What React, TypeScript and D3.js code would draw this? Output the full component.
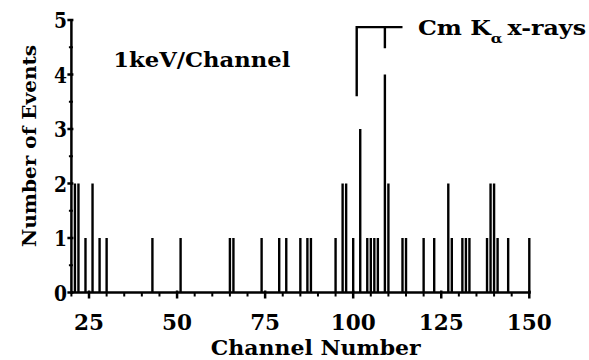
import React from "react";
import * as d3 from "d3";

// Data
const channels = [21, 22, 24, 26, 28, 30, 43, 51, 65, 66, 74, 79, 81, 85, 87, 88, 95, 97, 98, 100, 102, 104, 105, 106, 107, 109, 110, 114, 115, 120, 123, 127, 128, 131, 132, 133, 138, 139, 140, 141, 144, 150];
const counts = [2, 2, 1, 2, 1, 1, 1, 1, 1, 1, 1, 1, 1, 1, 1, 1, 1, 2, 2, 1, 3, 1, 1, 1, 1, 4, 2, 1, 1, 1, 1, 2, 1, 1, 1, 1, 1, 2, 2, 1, 1, 1];
const xTicks = [25, 50, 75, 100, 125, 150];
const yTicks = [0, 1, 2, 3, 4, 5];
const xMinor = d3.range(20, 151, 5).filter((v) => v % 25 !== 0);
const yMinor = [0.5, 1.5, 2.5, 3.5, 4.5];
// bracket for Cm K-alpha x-rays: left line channel, right line channel, end of horizontal
const bracketChannels = [101, 109, 114];
// levels: left line bottom, top, right line bottom
const bracketLevels = [3.6, 4.87, 4.48];

const FONT = "'DejaVu Serif', serif";

export default function App() {
  const W = 589;
  const H = 360;
  const x = d3.scaleLinear().domain([20, 150]).range([71.4, 529.3]);
  const y = d3.scaleLinear().domain([0, 5]).range([292.5, 20]);

  const bars = channels.map((c, i) => ({ c, v: counts[i] }));
  const bracketPath =
    `M${x(bracketChannels[0])},${y(bracketLevels[0])}` +
    `V${y(bracketLevels[1])}H${x(bracketChannels[2])}` +
    `M${x(bracketChannels[1])},${y(bracketLevels[1])}V${y(bracketLevels[2])}`;

  return (
    <svg
      width={W}
      height={H}
      viewBox={`0 0 ${W} ${H}`}
      style={{ position: "absolute", left: 0, top: 0, background: "#fff" }}
    >
      <rect width={W} height={H} fill="#fff" />
      {/* bars */}
      <g stroke="#000" strokeWidth={2.4}>
        {bars.map((b, i) => (
          <line key={i} x1={x(b.c)} x2={x(b.c)} y1={y(0)} y2={y(b.v)} />
        ))}
      </g>
      {/* axes */}
      <g stroke="#000" strokeWidth={2.5} fill="none">
        <line x1={x(20)} x2={x(150) + 1.5} y1={y(0)} y2={y(0)} />
        <line x1={x(20)} x2={x(20)} y1={y(0) + 1.2} y2={y(5)} />
        {xTicks.map((t) => (
          <line key={"xt" + t} x1={x(t)} x2={x(t)} y1={y(0) - 2} y2={y(0) + 6} />
        ))}
        {xMinor.map((t) => (
          <line key={"xm" + t} x1={x(t)} x2={x(t)} y1={y(0)} y2={y(0) + 4} strokeWidth={2} />
        ))}
        {yTicks.map((t) => (
          <line key={"yt" + t} x1={x(20) - 4} x2={x(20) + 2} y1={y(t)} y2={y(t)} />
        ))}
        {yMinor.map((t) => (
          <line key={"ym" + t} x1={x(20) - 2.5} x2={x(20) + 1.5} y1={y(t)} y2={y(t)} strokeWidth={2} />
        ))}
        <path d={bracketPath} strokeWidth={2.4} />
      </g>
      {/* tick labels */}
      <g fontFamily={FONT} fontWeight="bold" fontSize={22} fill="#000">
        {xTicks.map((t) => (
          <text key={"xl" + t} x={x(t)} y={330} textAnchor="middle" textLength={String(t).length * 15} lengthAdjust="spacingAndGlyphs">
            {t}
          </text>
        ))}
        {yTicks.map((t) => (
          <text key={"yl" + t} x={67} y={y(t) + 8} textAnchor="end" textLength={13} lengthAdjust="spacingAndGlyphs">
            {t}
          </text>
        ))}
      </g>
      {/* axis titles */}
      <g fontFamily={FONT} fontWeight="bold" fill="#000">
        <text x={315.7} y={355} fontSize={20} textAnchor="middle" textLength={210} lengthAdjust="spacingAndGlyphs">
          Channel Number
        </text>
        <text transform="translate(36,146) rotate(-90)" fontSize={19} textAnchor="middle" textLength={202} lengthAdjust="spacingAndGlyphs">
          Number of Events
        </text>
        <text x={113.3} y={66.5} fontSize={21} textLength={177} lengthAdjust="spacingAndGlyphs">
          1keV/Channel
        </text>
        <text x={418} y={35} fontSize={20} textLength={168} lengthAdjust="spacingAndGlyphs">
          Cm K
          <tspan fontSize={13} dy={8}>α</tspan>
          <tspan dy={-8} dx={4}>x-rays</tspan>
        </text>
      </g>
    </svg>
  );
}
